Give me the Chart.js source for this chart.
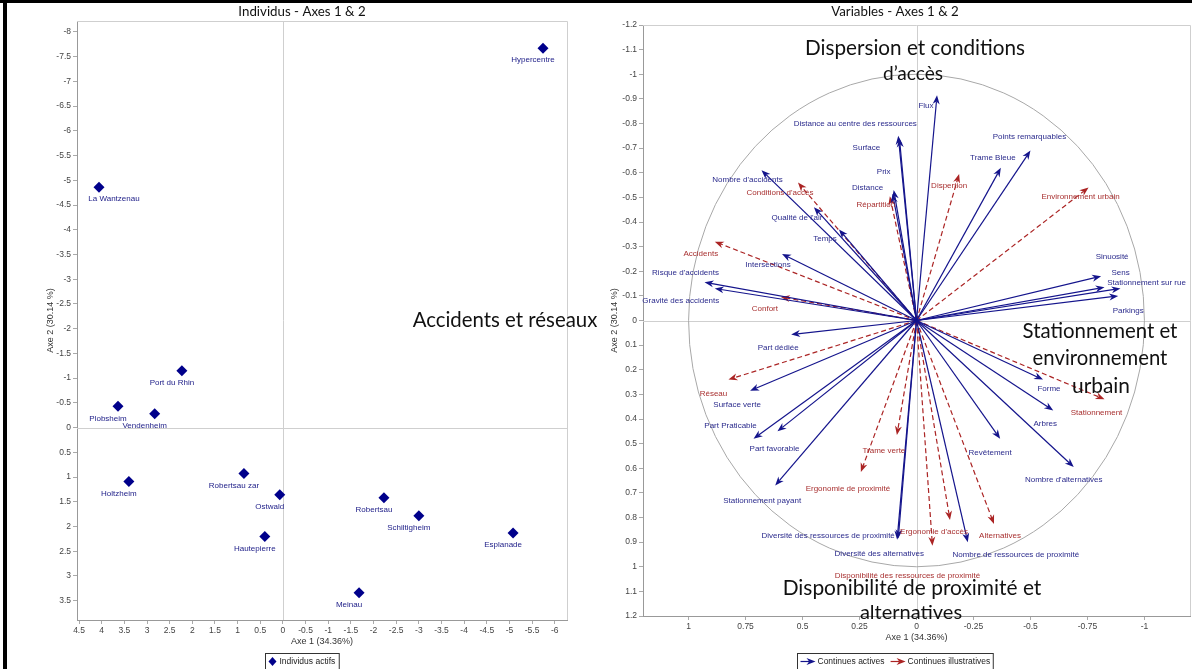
<!DOCTYPE html>
<html>
<head>
<meta charset="utf-8">
<script src="https://cdn.jsdelivr.net/npm/chart.js@4.4.1/dist/chart.umd.min.js"></script>
<style>
  body { margin: 0; background: #fff; }
  #wrap { position: relative; width: 1192px; height: 669px; overflow: hidden; }
  #wrap canvas { position: absolute; top: 0; }
  .bar { position: absolute; background: #000; }
</style>
</head>
<body>
<div id="wrap">
  <canvas id="graficoInd" width="588" height="669" style="left:8px"></canvas>
  <canvas id="graficoVar" width="594" height="669" style="left:598px"></canvas>
  <canvas id="notes" width="1192" height="669" style="left:0;pointer-events:none"></canvas>
  <div class="bar" style="left:0;top:0;width:1192px;height:3px"></div>
  <div class="bar" style="left:3px;top:0;width:4px;height:669px"></div>
</div>
<script>
// Individus (axe 1, axe 2)
const individus = ["Hypercentre", "La Wantzenau", "Port du Rhin", "Plobsheim", "Vendenheim", "Holtzheim",
  "Robertsau zar", "Ostwald", "Hautepierre", "Robertsau", "Schiltigheim", "Esplanade", "Meinau"];
const axe1Ind = [-5.74, 4.06, 2.23, 3.64, 2.83, 3.40, 0.86, 0.07, 0.40, -2.23, -3.00, -5.08, -1.68];
const axe2Ind = [-7.67, -4.86, -1.15, -0.43, -0.28, 1.09, 0.93, 1.36, 2.20, 1.42, 1.78, 2.13, 3.34];

// Variables actives (coordonnees sur le cercle)
const actives = ["Distance au centre des ressources", "Surface", "Flux", "Points remarquables", "Trame Bleue",
  "Prix", "Distance", "Nombre d'accidents", "Qualité de l'air", "Temps", "Intersections",
  "Risque d'accidents", "Gravité des accidents", "Sinuosité", "Sens", "Stationnement sur rue", "Parkings",
  "Part dédiée", "Surface verte", "Part Praticable", "Part favorable", "Stationnement payant",
  "Diversité des ressources de proximité", "Diversité des alternatives", "Nombre de ressources de proximité",
  "Revêtement", "Nombre d'alternatives", "Arbres", "Forme"];
const axe1Act = [0.08, 0.075, -0.09, -0.50, -0.37, 0.10, 0.105, 0.68, 0.45, 0.34, 0.59, 0.93, 0.885,
  -0.81, -0.825, -0.895, -0.885, 0.55, 0.73, 0.715, 0.61, 0.62, 0.085, 0.08, -0.225, -0.367, -0.69, -0.60, -0.555];
const axe2Act = [-0.75, -0.74, -0.915, -0.69, -0.62, -0.53, -0.515, -0.61, -0.46, -0.37, -0.27, -0.155, -0.13,
  -0.18, -0.135, -0.13, -0.10, 0.057, 0.285, 0.48, 0.45, 0.67, 0.89, 0.885, 0.90, 0.48, 0.595, 0.365, 0.24];

// Variables illustratives
const illustratives = ["Conditions d'accès", "Répartition", "Accidents", "Confort", "Dispertion",
  "Environnement urbain", "Stationnement", "Réseau", "Trame verte", "Ergonomie de proximité",
  "Ergonomie d'accès", "Alternatives", "Disponibilité des ressources de proximité"];
const axe1Ill = [0.52, 0.117, 0.885, 0.595, -0.187, -0.755, -0.825, 0.825, 0.086, 0.244, -0.147, -0.34, -0.07];
const axe2Ill = [-0.56, -0.505, -0.32, -0.095, -0.595, -0.54, 0.32, 0.24, 0.465, 0.615, 0.81, 0.826, 0.915];

// Graduations
const xTicksInd = [4.5, 4, 3.5, 3, 2.5, 2, 1.5, 1, 0.5, 0, -0.5, -1, -1.5, -2, -2.5, -3, -3.5, -4, -4.5, -5, -5.5, -6];
const yTicksInd = [-8, -7.5, -7, -6.5, -6, -5.5, -5, -4.5, -4, -3.5, -3, -2.5, -2, -1.5, -1, -0.5, 0, 0.5, 1, 1.5, 2, 2.5, 3, 3.5];
const xTicksVar = [1, 0.75, 0.5, 0.25, 0, -0.25, -0.5, -0.75, -1];
const yTicksVar = [-1.2, -1.1, -1, -0.9, -0.8, -0.7, -0.6, -0.5, -0.4, -0.3, -0.2, -0.1, 0,
  0.1, 0.2, 0.3, 0.4, 0.5, 0.6, 0.7, 0.8, 0.9, 1, 1.1, 1.2];

// decalage des etiquettes (pixels)
const offInd = { "La Wantzenau": [15, 12] };
const offAct = [[-43, -12], [-33, 10], [-11, 11], [-1, -14], [-8, -10], [-10, -18], [-25, -6], [-14, 10],
  [-17, 11], [-14, 9], [-14, 11], [-19, -10], [-34, 12], [11, -19], [16, -14], [26, -6], [10, 15],
  [-13, 13], [-13, 14], [-23, -13], [-3, 17], [-13, 15], [-69, -4], [-19, 15], [48, 13], [-10, 14],
  [-10, 13], [-8, 13], [6, 9]];
const offIll = [[-18, 10], [-14, 9], [-14, 12], [-16, 12], [-10, 12], [-8, 9], [-8, 13], [-15, 14],
  [-13, 16], [-13, 17], [-16, 12], [6, 12], [-25, 30]];

const BLEU = "#14148c";
const ROUGE = "#ab2424";
const SMALL = "8px 'Liberation Sans', Arial, sans-serif";

function axe(min, max, liste, taille, horizontal) {
  return {
    type: "linear",
    min: min,
    max: max,
    reverse: true,
    afterBuildTicks: (s) => { s.ticks = liste.map((v) => ({ value: v })); },
    afterFit: (s) => { if (horizontal) s.height = taille; else s.width = taille; },
    grid: { drawOnChartArea: false, drawTicks: true, tickLength: 4, color: "#aaa" },
    border: { display: true, color: "#999" },
    ticks: {
      font: { family: "'Liberation Sans', Arial", size: 8.5 },
      color: "#444",
      padding: 2,
      autoSkip: false,
      maxRotation: 0,
      callback: (v) => String(v),
    },
  };
}

function cadre(chart) {
  const ctx = chart.ctx, a = chart.chartArea;
  const xs = chart.scales.x, ys = chart.scales.y;
  const x0 = xs.getPixelForValue(0), y0 = ys.getPixelForValue(0);
  ctx.save();
  ctx.strokeStyle = "#cfcfcf";
  ctx.lineWidth = 1;
  ctx.beginPath();
  ctx.moveTo(a.left, a.top + 0.5); ctx.lineTo(a.right + 0.5, a.top + 0.5); ctx.lineTo(a.right + 0.5, a.bottom);
  ctx.moveTo(Math.round(x0) + 0.5, a.top); ctx.lineTo(Math.round(x0) + 0.5, a.bottom);
  ctx.moveTo(a.left, Math.round(y0) + 0.5); ctx.lineTo(a.right, Math.round(y0) + 0.5);
  ctx.stroke();
  ctx.restore();
}

function textes(chart, titre, yTitreX) {
  const ctx = chart.ctx, a = chart.chartArea;
  ctx.save();
  ctx.fillStyle = "#111";
  ctx.font = "13.3px Lato, sans-serif";
  ctx.textAlign = "center";
  ctx.textBaseline = "middle";
  ctx.fillText(titre, chart.width / 2, 12);
  ctx.fillStyle = "#333";
  ctx.font = "9px 'Liberation Sans', Arial, sans-serif";
  ctx.fillText("Axe 1 (34.36%)", (a.left + a.right) / 2, a.bottom + 22);
  ctx.translate(yTitreX, (a.top + a.bottom) / 2);
  ctx.rotate(-Math.PI / 2);
  ctx.fillText("Axe 2 (30.14 %)", 0, 0);
  ctx.restore();
}

function fleche(ctx, x0, y0, x1, y1, couleur, tirets) {
  const ang = Math.atan2(y1 - y0, x1 - x0);
  const L = 9, W = 3.5;
  const c = Math.cos(ang), s = Math.sin(ang);
  ctx.save();
  ctx.strokeStyle = couleur;
  ctx.fillStyle = couleur;
  ctx.lineWidth = 1.2;
  ctx.setLineDash(tirets);
  ctx.beginPath();
  ctx.moveTo(x0, y0);
  ctx.lineTo(x1 - L * 0.7 * c, y1 - L * 0.7 * s);
  ctx.stroke();
  ctx.setLineDash([]);
  ctx.beginPath();
  ctx.moveTo(x1, y1);
  ctx.lineTo(x1 - L * c + W * s, y1 - L * s - W * c);
  ctx.lineTo(x1 - L * 0.7 * c, y1 - L * 0.7 * s);
  ctx.lineTo(x1 - L * c - W * s, y1 - L * s + W * c);
  ctx.closePath();
  ctx.fill();
  ctx.restore();
}

// Graphique des individus
const pluginInd = {
  id: "pluginInd",
  beforeDatasetsDraw(chart) { cadre(chart); },
  afterDatasetsDraw(chart) {
    const ctx = chart.ctx;
    const meta = chart.getDatasetMeta(0);
    ctx.save();
    ctx.font = SMALL;
    ctx.fillStyle = "#22228a";
    ctx.textAlign = "center";
    ctx.textBaseline = "middle";
    meta.data.forEach((pt, i) => {
      const o = offInd[individus[i]] || [-10, 12];
      ctx.fillText(individus[i], pt.x + o[0], pt.y + o[1]);
    });
    ctx.restore();
  },
  afterDraw(chart) {
    textes(chart, "Individus - Axes 1 & 2", 43);
    const ctx = chart.ctx;
    ctx.save();
    ctx.font = "8.5px 'Liberation Sans', Arial, sans-serif";
    const label = chart.data.datasets[0].label;
    const w = 14 + ctx.measureText(label).width + 4;
    const x = Math.round(chart.width / 2 - w / 2) + 0.5;
    ctx.strokeStyle = "#333";
    ctx.strokeRect(x, 653.5, w, 16);
    ctx.fillStyle = "#00008b";
    ctx.beginPath();
    ctx.moveTo(x + 7, 657); ctx.lineTo(x + 11, 661.5); ctx.lineTo(x + 7, 666); ctx.lineTo(x + 3, 661.5);
    ctx.closePath(); ctx.fill();
    ctx.fillStyle = "#222";
    ctx.textBaseline = "middle";
    ctx.fillText(label, x + 14, 662);
    ctx.restore();
  },
};

new Chart(document.getElementById("graficoInd"), {
  type: "scatter",
  data: {
    datasets: [
      {
        label: "Individus actifs",
        data: individus.map((n, i) => ({ x: axe1Ind[i], y: axe2Ind[i] })),
        pointStyle: "rectRot",
        pointRadius: 5.5,
        backgroundColor: "#00008b",
        borderColor: "#00008b",
        borderWidth: 0,
      },
    ],
  },
  options: {
    responsive: false,
    animation: false,
    layout: { padding: { top: 21, right: 29, left: 0, bottom: 0 } },
    plugins: { legend: { display: false }, title: { display: false }, tooltip: { enabled: false } },
    scales: {
      x: axe(-6.27, 4.545, xTicksInd, 49, true),
      y: axe(-8.22, 3.89, yTicksInd, 69, false),
    },
  },
  plugins: [pluginInd],
});

// Cercle des correlations
const pluginVar = {
  id: "pluginVar",
  beforeDatasetsDraw(chart) {
    cadre(chart);
    const ctx = chart.ctx;
    const xs = chart.scales.x, ys = chart.scales.y;
    const cx = xs.getPixelForValue(0), cy = ys.getPixelForValue(0);
    const rx = Math.abs(xs.getPixelForValue(1) - cx), ry = Math.abs(ys.getPixelForValue(1) - cy);
    ctx.save();
    ctx.strokeStyle = "#a8a8a8";
    ctx.lineWidth = 1;
    ctx.beginPath();
    ctx.ellipse(cx, cy, rx, ry, 0, 0, Math.PI * 2);
    ctx.stroke();
    ctx.restore();
  },
  afterDatasetsDraw(chart) {
    const ctx = chart.ctx;
    const xs = chart.scales.x, ys = chart.scales.y;
    const ox = xs.getPixelForValue(0), oy = ys.getPixelForValue(0);
    const noms = [actives, illustratives];
    const decal = [offAct, offIll];
    [1, 0].forEach((di) => {
      const ds = chart.data.datasets[di];
      chart.getDatasetMeta(di).data.forEach((pt) => {
        fleche(ctx, ox, oy, pt.x, pt.y, ds.borderColor, di === 1 ? [5, 3] : []);
      });
    });
    ctx.save();
    ctx.font = SMALL;
    ctx.textAlign = "center";
    ctx.textBaseline = "middle";
    [1, 0].forEach((di) => {
      ctx.fillStyle = di === 0 ? "#2a2a8c" : "#a83030";
      chart.getDatasetMeta(di).data.forEach((pt, i) => {
        const o = decal[di][i];
        ctx.fillText(noms[di][i], pt.x + o[0], pt.y + o[1]);
      });
    });
    ctx.restore();
  },
  afterDraw(chart) {
    textes(chart, "Variables - Axes 1 & 2", 17);
    const ctx = chart.ctx;
    ctx.save();
    ctx.font = "8.5px 'Liberation Sans', Arial, sans-serif";
    const ds = chart.data.datasets;
    const widths = ds.map((d) => 18 + ctx.measureText(d.label).width);
    const w = widths[0] + widths[1] + 10;
    let x = Math.round(chart.width / 2 - w / 2) + 0.5;
    ctx.strokeStyle = "#333";
    ctx.strokeRect(x, 653.5, w, 16);
    x += 3;
    ds.forEach((d, i) => {
      fleche(ctx, x, 661.5, x + 15, 661.5, d.borderColor, []);
      ctx.fillStyle = "#222";
      ctx.textBaseline = "middle";
      ctx.fillText(d.label, x + 17, 662);
      x += widths[i] + 5;
    });
    ctx.restore();
  },
};

new Chart(document.getElementById("graficoVar"), {
  type: "scatter",
  data: {
    datasets: [
      {
        label: "Continues actives",
        data: actives.map((n, i) => ({ x: axe1Act[i], y: axe2Act[i] })),
        borderColor: BLEU,
        backgroundColor: BLEU,
        pointRadius: 0,
      },
      {
        label: "Continues illustratives",
        data: illustratives.map((n, i) => ({ x: axe1Ill[i], y: axe2Ill[i] })),
        borderColor: ROUGE,
        backgroundColor: ROUGE,
        pointRadius: 0,
      },
    ],
  },
  options: {
    responsive: false,
    animation: false,
    layout: { padding: { top: 25, right: 2, left: 0, bottom: 0 } },
    plugins: { legend: { display: false }, title: { display: false }, tooltip: { enabled: false } },
    scales: {
      x: axe(-1.2, 1.2, xTicksVar, 53, true),
      y: axe(-1.2, 1.2, yTicksVar, 45, false),
    },
  },
  plugins: [pluginVar],
});

// Annotations (grands titres des axes)
const notes = [
  ["Dispersion et conditions", 915, 55, 220],
  ["d’accès", 913, 80, 60],
  ["Accidents et réseaux", 505, 327, 185],
  ["Stationnement et", 1100, 338, 155],
  ["environnement", 1100, 365, 135],
  ["urbain", 1101, 393, 58],
  ["Disponibilité de proximité et", 912, 595, 259],
  ["alternatives", 911, 619, 102],
];
(function () {
  const ctx = document.getElementById("notes").getContext("2d");
  ctx.fillStyle = "#111";
  ctx.textAlign = "center";
  ctx.textBaseline = "alphabetic";
  notes.forEach(([t, cx, by, w]) => {
    ctx.font = "100px Lato, sans-serif";
    const taille = Math.min(26, 100 * w / ctx.measureText(t).width);
    ctx.font = taille.toFixed(1) + "px Lato, sans-serif";
    ctx.fillText(t, cx, by);
  });
})();
</script>
</body>
</html>
